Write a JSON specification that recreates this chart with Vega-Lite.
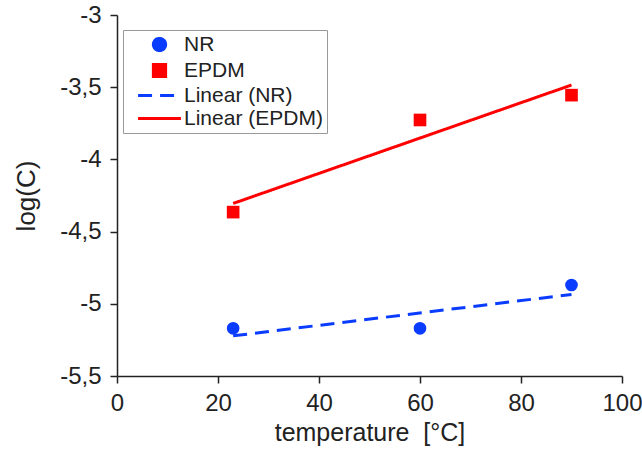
{
  "$schema": "https://vega.github.io/schema/vega-lite/v6.json",
  "width": 505,
  "height": 361,
  "autosize": {"type": "none"},
  "padding": {"left": 117, "top": 15, "right": 20, "bottom": 83},
  "background": "white",
  "config": {
    "view": {"stroke": null},
    "font": "Liberation Sans",
    "axis": {"grid": false, "labelFlush": false, "labelOverlap": false, "domainColor": "#222", "tickColor": "#222", "domainWidth": 1.5, "tickWidth": 1.5, "tickSize": 7, "labelFontSize": 24, "labelColor": "#222", "titleColor": "#222", "titleFontWeight": "normal"}
  },
  "data": {"values": [
    {"series": "NR", "kind": "point", "t": 23, "logC": -5.17},
    {"series": "NR", "kind": "point", "t": 60, "logC": -5.17},
    {"series": "NR", "kind": "point", "t": 90, "logC": -4.87},
    {"series": "EPDM", "kind": "point", "t": 23, "logC": -4.365},
    {"series": "EPDM", "kind": "point", "t": 60, "logC": -3.727},
    {"series": "EPDM", "kind": "point", "t": 90, "logC": -3.555},
    {"series": "Linear (NR)", "kind": "fit", "t": 23, "logC": -5.222},
    {"series": "Linear (NR)", "kind": "fit", "t": 90, "logC": -4.935},
    {"series": "Linear (EPDM)", "kind": "fit", "t": 23, "logC": -4.305},
    {"series": "Linear (EPDM)", "kind": "fit", "t": 90, "logC": -3.485}
  ]},
  "layer": [
    {
      "transform": [{"filter": "datum.kind === 'fit'"}],
      "mark": {"type": "line", "strokeWidth": 3},
      "encoding": {
        "x": {"field": "t", "type": "quantitative", "scale": {"domain": [0, 100], "nice": false, "padding": 0}, "axis": {"values": [0, 20, 40, 60, 80, 100], "title": "temperature\u00a0\u00a0[°C]", "titleFontSize": 25, "titlePadding": 5, "labelPadding": 8}},
        "y": {"field": "logC", "type": "quantitative", "scale": {"domain": [-5.5, -3], "nice": false, "zero": false, "padding": 0}, "axis": {"values": [-5.5, -5, -4.5, -4, -3.5, -3], "labelExpr": "(datum.value < 0 ? '-' : '') + replace(format(abs(datum.value), '~g'), '.', ',')", "title": "log(C)", "titleFontSize": 26, "titlePadding": 20, "labelPadding": 9}},
        "detail": {"field": "series"},
        "color": {"field": "series", "type": "nominal", "scale": {"domain": ["NR", "EPDM", "Linear (NR)", "Linear (EPDM)"], "range": ["#0a3cff", "#ff0000", "#0a3cff", "#ff0000"]}, "legend": {
          "title": null, "orient": "none", "legendX": 6, "legendY": 15,
          "strokeColor": "#999", "padding": 4, "labelFontSize": 21, "labelColor": "#222",
          "rowPadding": 1, "symbolSize": 150, "offset": 0,
          "symbolStrokeWidth": 3, "symbolOffset": 22, "labelOffset": 14,
          "labelLimit": 300
        }},
        "strokeDash": {"field": "series", "type": "nominal", "scale": {"domain": ["NR", "EPDM", "Linear (NR)", "Linear (EPDM)"], "range": [[1, 0], [1, 0], [14, 8], [1, 0]]}}
      }
    },
    {
      "transform": [{"filter": "datum.kind === 'point'"}],
      "mark": {"type": "point", "filled": true, "opacity": 1, "size": 160},
      "encoding": {
        "x": {"field": "t", "type": "quantitative"},
        "y": {"field": "logC", "type": "quantitative"},
        "color": {"field": "series", "type": "nominal"},
        "shape": {"field": "series", "type": "nominal", "scale": {"domain": ["NR", "EPDM", "Linear (NR)", "Linear (EPDM)"], "range": ["circle", "square", "M-3.5,0H3.5", "M-3.5,0H3.5"]}}
      }
    }
  ]
}
